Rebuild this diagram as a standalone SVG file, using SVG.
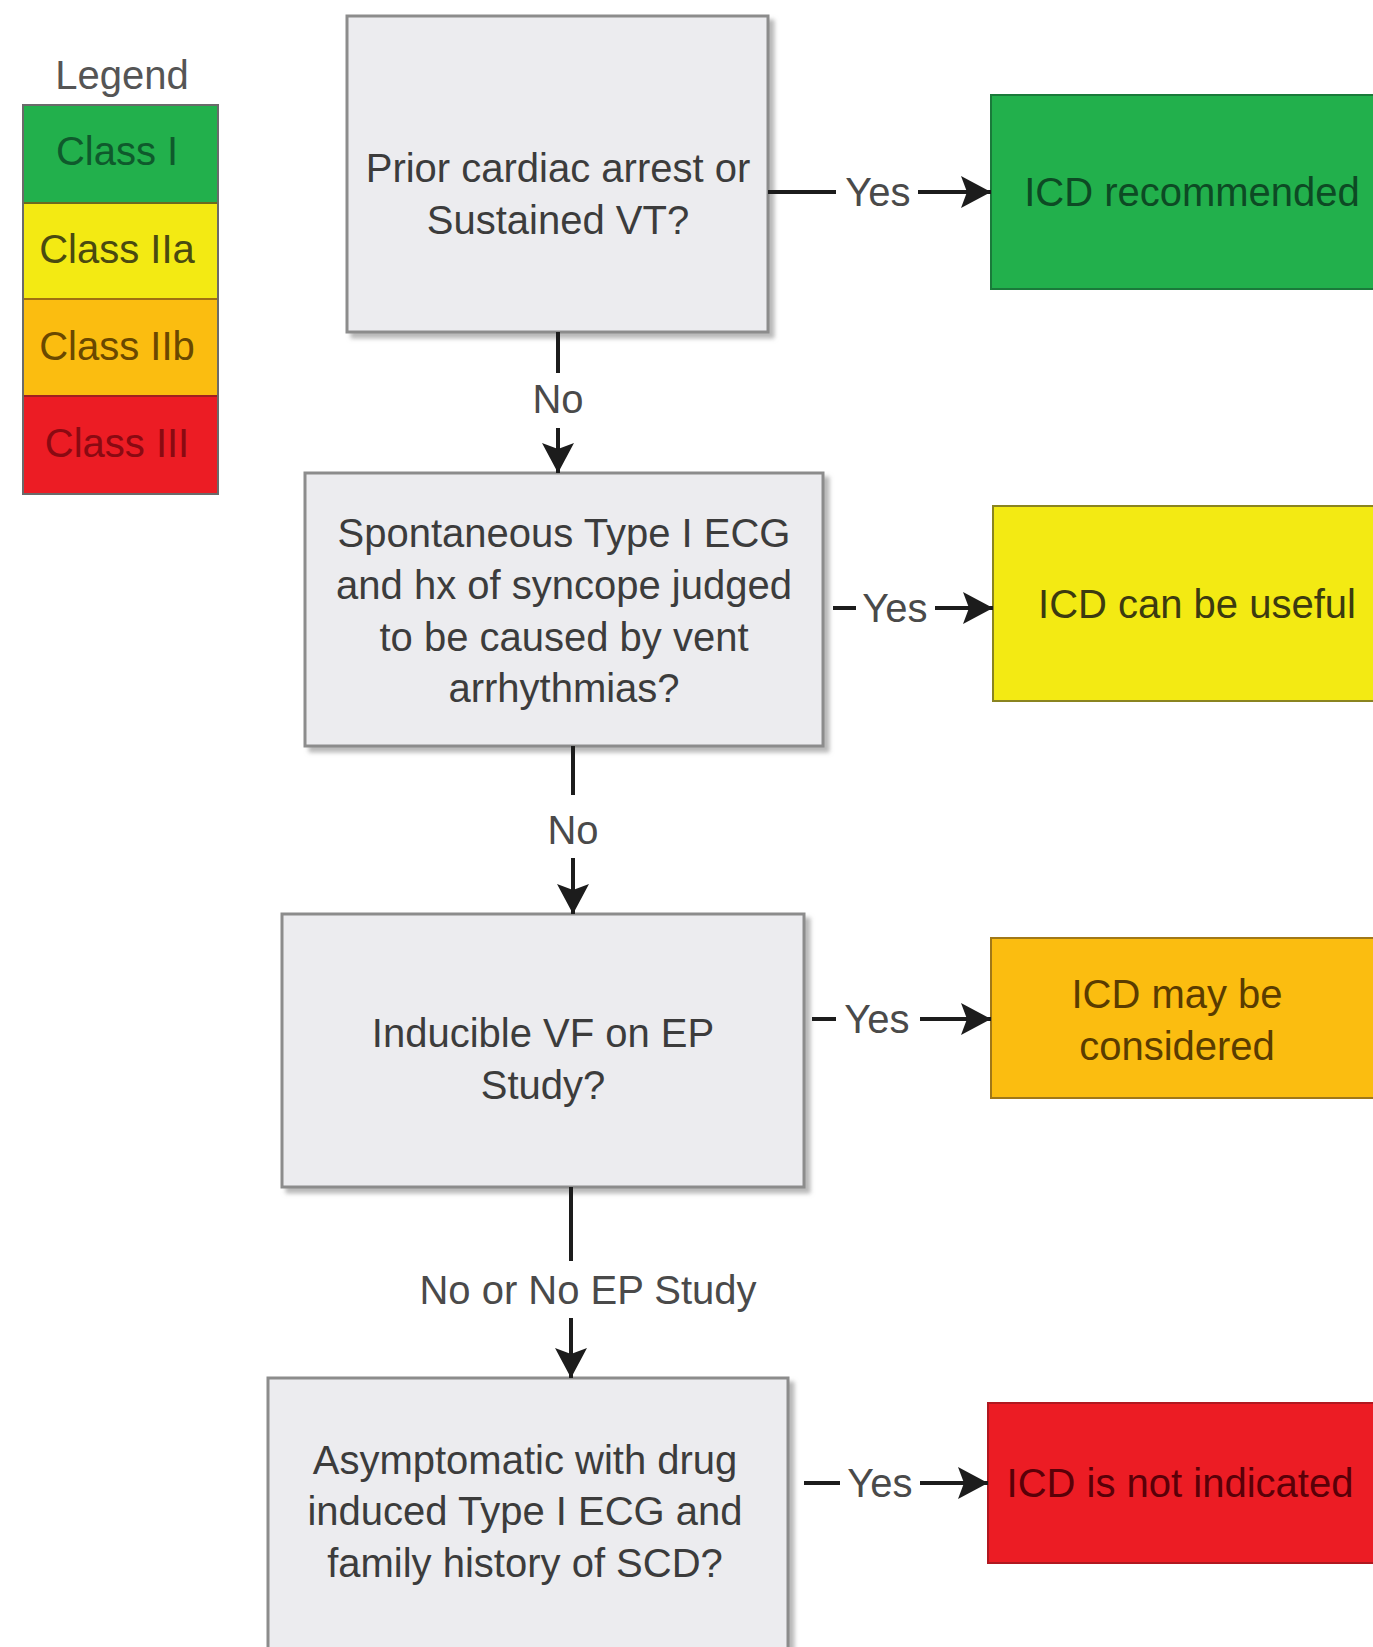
<svg xmlns="http://www.w3.org/2000/svg" width="1373" height="1647" viewBox="0 0 1373 1647">
<defs>
<filter id="shadow" x="-5%" y="-5%" width="115%" height="115%">
<feDropShadow dx="5" dy="5" stdDeviation="2" flood-color="#9a9a9a" flood-opacity="0.7"/>
</filter>
<marker id="arrow" viewBox="0 0 30 32" refX="30" refY="16" markerWidth="30" markerHeight="32" markerUnits="userSpaceOnUse" orient="auto">
<path d="M0,0 L30,16 L0,32 L6,16 z" fill="#1c1c1c"/>
</marker>
</defs>
<style>
text{font-family:"Liberation Sans",Arial,sans-serif;font-size:40px;text-anchor:middle}
.q{fill:#ececef;stroke:#8c8c8c;stroke-width:3;filter:url(#shadow)}
.qt{fill:#3c3c3c}
.lbl{fill:#4a4a4a}
.ln{stroke:#1c1c1c;stroke-width:4;fill:none}
.ar{marker-end:url(#arrow)}
</style>
<rect width="1373" height="1647" fill="#ffffff"/>

<g id="legend">
<text x="122" y="89" fill="#555555">Legend</text>
<rect x="23" y="105" width="195" height="98" fill="#22b04c"/>
<rect x="23" y="203" width="195" height="96" fill="#f3ea13"/>
<rect x="23" y="299" width="195" height="97" fill="#fbbd10"/>
<rect x="23" y="396" width="195" height="98" fill="#ec1c24"/>
<line x1="23" y1="203" x2="218" y2="203" stroke="#6a6a20" stroke-width="2"/>
<line x1="23" y1="299" x2="218" y2="299" stroke="#a07010" stroke-width="2"/>
<line x1="23" y1="396" x2="218" y2="396" stroke="#a02020" stroke-width="2"/>
<rect x="23" y="105" width="195" height="389" fill="none" stroke="#6a6a6a" stroke-width="2"/>
<text x="117" y="165" fill="#0f5a2c">Class I</text>
<text x="117" y="263" fill="#4a4a10">Class IIa</text>
<text x="117" y="360" fill="#6a4800">Class IIb</text>
<text x="117" y="457" fill="#8a0a12">Class III</text>
</g>

<g id="node-q1">
<rect class="q" x="347" y="16" width="421" height="316"/>
<text class="qt" x="558" y="182">Prior cardiac arrest or</text>
<text class="qt" x="558" y="234">Sustained VT?</text>
</g>

<g id="node-q2">
<rect class="q" x="305" y="473" width="518" height="273"/>
<text class="qt" x="564" y="547">Spontaneous Type I ECG</text>
<text class="qt" x="564" y="599">and hx of syncope judged</text>
<text class="qt" x="564" y="651">to be caused by vent</text>
<text class="qt" x="564" y="702">arrhythmias?</text>
</g>

<g id="node-q3">
<rect class="q" x="282" y="914" width="522" height="273"/>
<text class="qt" x="543" y="1047">Inducible VF on EP</text>
<text class="qt" x="543" y="1099">Study?</text>
</g>

<g id="node-q4">
<rect class="q" x="268" y="1378" width="520" height="300"/>
<text class="qt" x="525" y="1474">Asymptomatic with drug</text>
<text class="qt" x="525" y="1525">induced Type I ECG and</text>
<text class="qt" x="525" y="1577">family history of SCD?</text>
</g>

<g id="node-r1">
<rect x="991" y="95" width="400" height="194" fill="#22b04c" stroke="#1a7a3a" stroke-width="2"/>
<text x="1192" y="206" fill="#0d4a24">ICD recommended</text>
</g>

<g id="node-r2">
<rect x="993" y="506" width="400" height="195" fill="#f3ea13" stroke="#8a8420" stroke-width="2"/>
<text x="1197" y="618" fill="#3c3a10">ICD can be useful</text>
</g>

<g id="node-r3">
<rect x="991" y="938" width="400" height="160" fill="#fbbd10" stroke="#a07818" stroke-width="2"/>
<text x="1177" y="1008" fill="#5a3c00">ICD may be</text>
<text x="1177" y="1060" fill="#5a3c00">considered</text>
</g>

<g id="node-r4">
<rect x="988" y="1403" width="400" height="160" fill="#ec1c24" stroke="#b01820" stroke-width="2"/>
<text x="1180" y="1497" fill="#5a0008">ICD is not indicated</text>
</g>

<g id="connectors">
<line class="ln" x1="768" y1="192" x2="836" y2="192"/>
<text class="lbl" x="878" y="206">Yes</text>
<line class="ln ar" x1="918" y1="192" x2="991" y2="192"/>

<line class="ln" x1="833" y1="608" x2="856" y2="608"/>
<text class="lbl" x="895" y="622">Yes</text>
<line class="ln ar" x1="935" y1="608" x2="993" y2="608"/>

<line class="ln" x1="812" y1="1019" x2="836" y2="1019"/>
<text class="lbl" x="877" y="1033">Yes</text>
<line class="ln ar" x1="920" y1="1019" x2="991" y2="1019"/>

<line class="ln" x1="804" y1="1483" x2="840" y2="1483"/>
<text class="lbl" x="880" y="1497">Yes</text>
<line class="ln ar" x1="920" y1="1483" x2="988" y2="1483"/>

<line class="ln" x1="558" y1="332" x2="558" y2="373"/>
<text class="lbl" x="558" y="413">No</text>
<line class="ln ar" x1="558" y1="428" x2="558" y2="473"/>

<line class="ln" x1="573" y1="746" x2="573" y2="795"/>
<text class="lbl" x="573" y="844">No</text>
<line class="ln ar" x1="573" y1="858" x2="573" y2="914"/>

<line class="ln" x1="571" y1="1187" x2="571" y2="1261"/>
<text class="lbl" x="588" y="1304">No or No EP Study</text>
<line class="ln ar" x1="571" y1="1318" x2="571" y2="1378"/>
</g>
</svg>
